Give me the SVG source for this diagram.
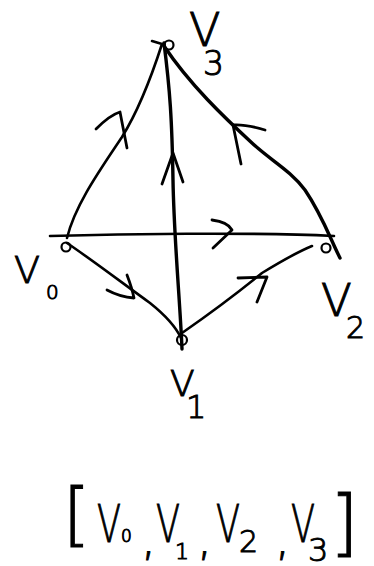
<svg xmlns="http://www.w3.org/2000/svg" width="374" height="566" viewBox="0 0 374 566">
<style>
  .edge{fill:none;stroke:#000;stroke-width:2.6;stroke-linecap:round;stroke-linejoin:round}
  .thick{stroke-width:3.4}
  .arrow{fill:none;stroke:#000;stroke-width:2.8;stroke-linecap:round;stroke-linejoin:round}
  .node{fill:none;stroke:#000;stroke-width:2.2}
  .lbl{font-family:"DejaVu Sans","Liberation Sans",sans-serif;font-weight:300;fill:#000;stroke:#000;stroke-width:1}
</style>
<rect width="374" height="566" fill="#fff"/>
<g id="connectors">
  <path class="edge" d="M67,238 C75,205 100,170 122,137 C140,108 152,75 162,44 L152,41"/>
  <path class="edge thick" d="M182,349 C180,300 174,240 173,180 C172,120 170,90 164,43"/>
  <path class="edge thick" d="M340,258 C330,238 322,215 305,190 C290,170 270,160 252,143 C225,118 190,85 164,46"/>
  <path class="edge" d="M50,236 C120,234 250,232 334,236"/>
  <path class="edge" d="M67,243 C95,262 125,285 150,303 C165,315 175,325 181,338"/>
  <path class="edge" d="M182,333 C205,317 235,295 262,273 C280,262 295,253 312,246"/>
  <path class="arrow" d="M96,129 Q110,115 120,112 L127,148"/>
  <path class="arrow" d="M162,184 L173,153 L183,182"/>
  <path class="arrow" d="M265,130 Q245,124 233,125 L241,164"/>
  <path class="arrow" d="M212,220 Q228,222 232,230 L213,248"/>
  <path class="arrow" d="M127,275 Q132,288 134,298 Q120,297 107,290"/>
  <path class="arrow" d="M238,278 L267,277 L257,302"/>
</g>
<g id="v3">
  <circle class="node" cx="169" cy="45" r="4.5"/>
  <text class="lbl" x="189" y="46" font-size="46">V<tspan x="203" y="75" font-size="33">3</tspan></text>
</g>
<g id="v0">
  <circle class="node" cx="66" cy="247" r="4.5"/>
  <text class="lbl" x="14" y="283" font-size="38">V<tspan x="46" y="299" font-size="20">0</tspan></text>
</g>
<g id="v2">
  <circle class="node" cx="326" cy="248" r="4.5"/>
  <text class="lbl" x="321" y="316" font-size="45">V<tspan x="346" y="338" font-size="30">2</tspan></text>
</g>
<g id="v1">
  <circle class="node" cx="182" cy="340" r="5"/>
  <text class="lbl" x="170" y="396" font-size="36">V<tspan x="186" y="418" font-size="32">1</tspan></text>
</g>
<g id="list">
  <text class="lbl" font-size="52"><tspan x="63" y="538" font-size="70">[</tspan><tspan x="97" y="542" textLength="24" lengthAdjust="spacingAndGlyphs">V</tspan><tspan x="121" y="542" font-size="17">0</tspan><tspan x="141" y="554" font-size="48">,</tspan><tspan x="156" y="542" textLength="24" lengthAdjust="spacingAndGlyphs">V</tspan><tspan x="175" y="559" font-size="22">1</tspan><tspan x="197" y="554" font-size="48">,</tspan><tspan x="216" y="542" textLength="24" lengthAdjust="spacingAndGlyphs">V</tspan><tspan x="239" y="552" font-size="30">2</tspan><tspan x="275" y="554" font-size="48">,</tspan><tspan x="291" y="542" textLength="24" lengthAdjust="spacingAndGlyphs">V</tspan><tspan x="308" y="561" font-size="32">3</tspan><tspan x="330" y="548" font-size="73">]</tspan></text>
</g>
</svg>
